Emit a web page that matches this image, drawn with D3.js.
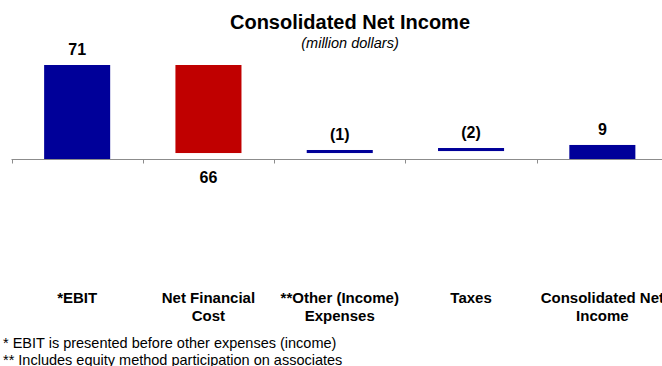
<!DOCTYPE html>
<html>
<head>
<meta charset="utf-8">
<script src="https://cdn.jsdelivr.net/npm/d3@7"></script>
<style>
  html, body { margin: 0; padding: 0; background: #fff; }
  svg { display: block; font-family: "Liberation Sans", Arial, sans-serif; }
</style>
</head>
<body>
<svg id="chart" width="662" height="366"></svg>
<script>
// ---- data ----
const categories = ["*EBIT", "Net Financial Cost", "**Other (Income) Expenses", "Taxes", "Consolidated Net Income"];
const categoryLines = [["*EBIT"], ["Net Financial", "Cost"], ["**Other (Income)", "Expenses"], ["Taxes"], ["Consolidated Net", "Income"]];
const valueLabels = ["71", "66", "(1)", "(2)", "9"];
const barStart = [0, 71, 4.5, 6.0, 0];
const barEnd = [71, 4.5, 6.8, 8.3, 10.6];
const barKind = ["total", "negative", "positive", "positive", "total"];
const footnotes = ["* EBIT is presented before other expenses (income)", "** Includes equity method participation on associates"];

const colors = { total: "#000099", negative: "#C00000", positive: "#000099" };

const svg = d3.select("#chart");

const x = d3.scaleBand().domain(categories).range([11.5, 668]).padding(0);
const y = d3.scaleLinear().domain([0, 71]).range([159, 65]);
const barW = x.bandwidth() * 0.503;

// title
svg.append("text").attr("x", 350).attr("y", 29).attr("text-anchor", "middle")
  .attr("font-size", 20).attr("font-weight", "bold").text("Consolidated Net Income");
svg.append("text").attr("x", 350).attr("y", 48).attr("text-anchor", "middle")
  .attr("font-size", 14.5).attr("font-style", "italic").text("(million dollars)");

// bars
svg.selectAll("rect.bar").data(categories).join("rect")
  .attr("class", "bar")
  .attr("x", c => x(c) + (x.bandwidth() - barW) / 2)
  .attr("width", barW)
  .attr("y", (c, i) => y(Math.max(barStart[i], barEnd[i])))
  .attr("height", (c, i) => Math.abs(y(barStart[i]) - y(barEnd[i])))
  .attr("fill", (c, i) => colors[barKind[i]]);

// axis line and ticks
const axisY = 159.5;
svg.append("line").attr("x1", 11.5).attr("x2", 662).attr("y1", axisY).attr("y2", axisY)
  .attr("stroke", "#8c8c8c").attr("stroke-width", 1.2);
const tickXs = categories.map(c => x(c)).concat([x.range()[1]]);
svg.selectAll("line.tick").data(tickXs).join("line")
  .attr("class", "tick")
  .attr("x1", d => Math.round(d) + 0.5).attr("x2", d => Math.round(d) + 0.5)
  .attr("y1", axisY).attr("y2", axisY + 4)
  .attr("stroke", "#8c8c8c").attr("stroke-width", 1);

// value labels
svg.selectAll("text.val").data(categories).join("text")
  .attr("class", "val")
  .attr("x", c => x(c) + x.bandwidth() / 2)
  .attr("y", (c, i) => barKind[i] === "negative"
      ? y(Math.min(barStart[i], barEnd[i])) + 30
      : y(Math.max(barStart[i], barEnd[i])) - 10)
  .attr("text-anchor", "middle")
  .attr("font-size", 16).attr("font-weight", "bold")
  .text((c, i) => valueLabels[i]);

// category labels
const cat = svg.selectAll("text.cat").data(categories).join("text")
  .attr("class", "cat")
  .attr("text-anchor", "middle")
  .attr("font-size", 15).attr("font-weight", "bold");
cat.each(function(c, i) {
  const t = d3.select(this);
  categoryLines[i].forEach((line, j) => {
    t.append("tspan").attr("x", x(c) + x.bandwidth() / 2).attr("y", 303 + j * 18).text(line);
  });
});

// footnotes
svg.selectAll("text.foot").data(footnotes).join("text")
  .attr("class", "foot")
  .attr("x", 3).attr("y", (d, i) => 348 + i * 17)
  .attr("font-size", 14.5)
  .text(d => d);
</script>
</body>
</html>
